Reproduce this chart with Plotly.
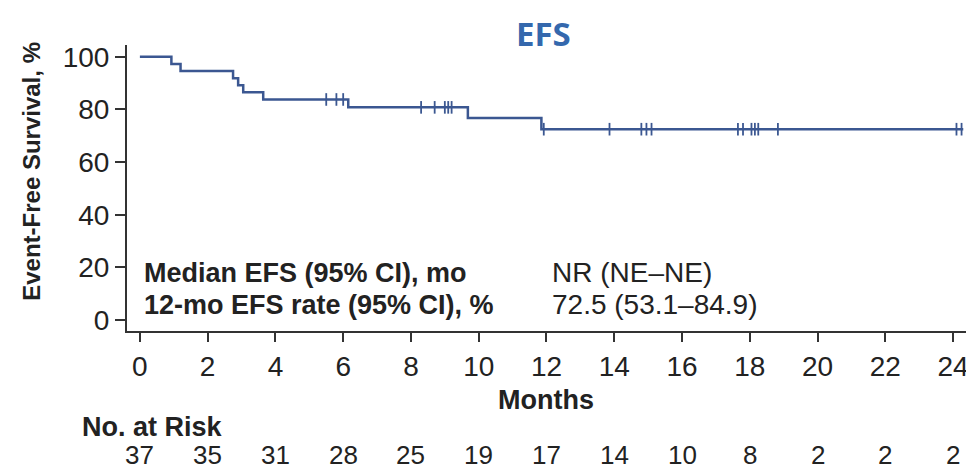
import plotly.graph_objects as go

# ---- data ----
event_times = [0, 0.93, 1.2, 2.75, 2.9, 3.05, 3.64, 6.15, 9.68, 11.85, 24.3]
event_surv = [100, 97.3, 94.6, 91.9, 89.2, 86.5, 83.8, 80.8, 76.8, 72.5, 72.5]

censor_times = [5.5, 5.8, 6.0, 8.3, 8.7, 9.0, 9.1, 9.2,
                11.92, 13.86, 14.8, 14.95, 15.1, 17.65, 17.8, 18.05, 18.15,
                18.25, 18.83, 24.1, 24.25]
censor_surv = [83.8, 83.8, 83.8, 80.8, 80.8, 80.8, 80.8, 80.8,
               72.5, 72.5, 72.5, 72.5, 72.5, 72.5, 72.5, 72.5, 72.5,
               72.5, 72.5, 72.5, 72.5]

risk_times = [0, 2, 4, 6, 8, 10, 12, 14, 16, 18, 20, 22, 24]
risk_counts = [37, 35, 31, 28, 25, 19, 17, 14, 10, 8, 2, 2, 2]

x_ticks = [0, 2, 4, 6, 8, 10, 12, 14, 16, 18, 20, 22, 24]
y_ticks = [0, 20, 40, 60, 80, 100]

stat_labels = ["Median EFS (95% CI), mo", "12-mo EFS rate (95% CI), %"]
stat_values = ["NR (NE\u2013NE)", "72.5 (53.1\u201384.9)"]
stat_y = [17.9, 5.7]

LINE = "#3b5791"
TXT = "#222222"
FONT = "Liberation Sans, Arial, sans-serif"

fig = go.Figure()
fig.add_trace(go.Scatter(
    x=event_times, y=event_surv, mode="lines", line_shape="hv",
    line=dict(color=LINE, width=2.5), showlegend=False, hoverinfo="skip"))
fig.add_trace(go.Scatter(
    x=censor_times, y=censor_surv, mode="markers",
    marker=dict(symbol="line-ns", size=9, line=dict(color=LINE, width=1.8)),
    showlegend=False, hoverinfo="skip", cliponaxis=False))

ann = []
for lab, val, yy in zip(stat_labels, stat_values, stat_y):
    ann.append(dict(x=0.05, y=yy, xref="x", yref="y", text="<b>" + lab + "</b>",
                    showarrow=False, xanchor="left", yanchor="middle",
                    font=dict(size=27, color=TXT, family=FONT)))
    ann.append(dict(x=12.1, y=yy, xref="x", yref="y", text=val,
                    showarrow=False, xanchor="left", yanchor="middle",
                    font=dict(size=28, color=TXT, family=FONT)))
for t, n in zip(risk_times, risk_counts):
    ann.append(dict(x=t, y=-0.434, xref="x", yref="paper", text=str(n),
                    showarrow=False, xanchor="center", yanchor="middle",
                    font=dict(size=26, color=TXT, family=FONT)))
ann.append(dict(x=-0.056, y=-0.336, xref="paper", yref="paper", text="<b>No. at Risk</b>",
                showarrow=False, xanchor="left", yanchor="middle",
                font=dict(size=27, color=TXT, family=FONT)))
ann.append(dict(x=12.0, y=-0.241, xref="x", yref="paper", text="<b>Months</b>",
                showarrow=False, xanchor="center", yanchor="middle",
                font=dict(size=27, color=TXT, family=FONT)))
ann.append(dict(x=-0.113, y=0.56, xref="paper", yref="paper",
                text="<b>Event-Free Survival, %</b>", textangle=-90,
                showarrow=False, xanchor="center", yanchor="middle",
                font=dict(size=24, color=TXT, family=FONT)))
ann.append(dict(x=0.495, y=1.04, xref="paper", yref="paper", text="<b>EFS</b>",
                showarrow=False, xanchor="center", yanchor="middle",
                font=dict(size=33, color="#3468ad", family="Open Sans, sans-serif")))

# page body adds an 8px offset, so the figure is 8px smaller and shifted
fig.update_layout(
    width=966, height=464,
    margin=dict(l=119, r=6, t=37, b=141, autoexpand=False),
    paper_bgcolor="white", plot_bgcolor="white",
    annotations=ann,
    xaxis=dict(range=[-0.38, 24.44], tickvals=x_ticks, showgrid=False, zeroline=False,
               showline=True, linecolor="#333333", linewidth=2, automargin=False,
               ticks="outside", ticklen=9, tickwidth=1.5, tickcolor="#333333",
               tickfont=dict(size=28, color=TXT, family=FONT)),
    yaxis=dict(range=[-4.2, 104.5], tickvals=y_ticks, showgrid=False, zeroline=False,
               showline=True, linecolor="#333333", linewidth=2, automargin=False,
               ticks="outside", ticklen=10, tickwidth=1.5, tickcolor="#333333",
               tickfont=dict(size=28, color=TXT, family=FONT)),
)

fig.write_html("out.html")
